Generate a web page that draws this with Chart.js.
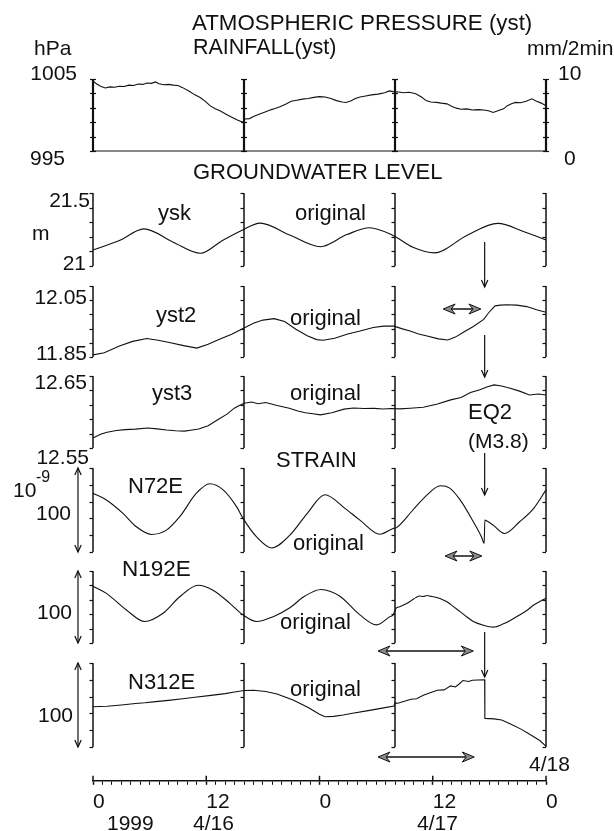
<!DOCTYPE html>
<html>
<head>
<meta charset="utf-8">
<script src="https://cdn.jsdelivr.net/npm/chart.js@4.4.1/dist/chart.umd.min.js"></script>
<style>
  html, body { margin:0; padding:0; background:#fff; }
  #fig { position:relative; width:614px; height:831px; overflow:hidden; background:#fff;
         font-family:"Liberation Sans", Arial, sans-serif; color:#111; }
  #fig canvas { position:absolute; left:0; }
  .lbl { position:absolute; font-size:21px; line-height:1; white-space:nowrap; transform:translateY(-50%); }
  .lbl.r { transform:translate(-100%, -50%); }
  .lbl.sup { font-size:16px; }
</style>
</head>
<body>
<div id="fig"></div>
<script>
// ── Data: hours from 1999-04-16 00:00 ──────────
const FRAME_HOURS = [0, 16, 32, 48];
const AXIS_HOURS  = Array.from({ length: 49 }, (_, i) => i);
const EQ_HOUR     = 41.5;

// atmospheric pressure, hPa
const PRESSURE = [[0,1004.7],[0.4,1004.3],[0.8,1004.0],[1.3,1003.75],[1.8,1003.9],[2.3,1003.85],[2.8,1004.0],
  [3.3,1003.95],[3.8,1004.15],[4.3,1004.1],[4.8,1004.3],[5.3,1004.25],[5.7,1004.45],[6.2,1004.4],[6.6,1004.6],
  [7.0,1004.35],[7.5,1004.2],[8.0,1004.25],[8.5,1004.15],[9.0,1004.1],[9.5,1003.8],[10.2,1003.3],[10.8,1002.8],
  [11.4,1002.4],[11.9,1001.9],[12.4,1001.3],[12.9,1000.9],[13.5,1000.55],[14.1,1000.1],[14.7,999.7],[15.3,999.3],
  [15.9,999.0],[16.1,999.45],[16.6,999.5],[17.0,999.8],[17.6,1000.1],[18.3,1000.45],[18.9,1000.75],[19.3,1000.9],
  [19.8,1001.15],[20.4,1001.5],[21.0,1001.9],[21.6,1002.05],[22.2,1002.2],[22.8,1002.3],[23.4,1002.45],[24.0,1002.55],
  [24.6,1002.5],[25.2,1002.3],[25.8,1002.0],[26.4,1001.8],[26.8,1001.74],[27.3,1001.95],[27.8,1002.3],[28.3,1002.5],
  [28.9,1002.65],[29.5,1002.8],[30.2,1002.9],[30.9,1003.1],[31.4,1003.35],[31.8,1003.25],[32.4,1003.2],[32.9,1003.1],
  [33.5,1003.15],[34.2,1002.95],[34.8,1002.5],[35.3,1002.0],[35.8,1001.8],[36.4,1001.75],[36.9,1001.65],[37.5,1001.55],
  [38.0,1001.2],[38.5,1000.95],[39.0,1000.8],[39.6,1000.85],[40.2,1000.7],[40.8,1000.75],[41.4,1000.7],[41.9,1000.6],
  [42.4,1000.35],[42.9,1000.6],[43.5,1000.85],[43.9,1001.3],[44.4,1001.6],[44.8,1001.75],[45.3,1001.7],[45.9,1001.9],
  [46.5,1002.25],[47.0,1001.9],[47.5,1001.65],[48,1001.3]];

// rainfall, mm/2min
const RAINFALL = [[0,0],[16,0],[32,0],[48,0]];

// groundwater level, m
const YSK = [[0,21.109],[2.8,21.174],[5.4,21.254],[8.5,21.163],[11.4,21.087],[13.6,21.17],[15.8,21.245],
  [17.7,21.294],[20.9,21.21],[24.1,21.132],[26.9,21.215],[29.3,21.262],[31.8,21.209],[33.9,21.128],[36.2,21.09],
  [39.6,21.209],[42.9,21.292],[45.6,21.237],[48,21.178]];

const YST2 = [[0,11.856],[1.2,11.862],[2.8,11.881],[4.2,11.894],[5.7,11.902],[6.9,11.897],[8.1,11.891],[9.6,11.882],
  [11.0,11.875],[12.2,11.886],[13.4,11.90],[14.7,11.914],[15.9,11.93],[17.0,11.945],[18.0,11.954],[19.2,11.958],
  [20.3,11.95],[21.5,11.928],[22.7,11.91],[23.7,11.899],[24.4,11.897],[25.6,11.903],[27.0,11.915],[28.3,11.923],
  [29.7,11.933],[30.8,11.937],[31.9,11.937],[32.7,11.93],[33.6,11.923],[34.5,11.915],[35.4,11.909],[36.6,11.901],
  [37.6,11.898],[38.4,11.906],[39.2,11.919],[40.3,11.936],[41.4,11.956],[41.9,11.974],[42.6,11.994],[43.2,11.996],
  [43.8,11.997],[44.9,11.996],[45.96,11.992],[47.0,11.983],[48,11.976]];

const YST3 = [[0,12.5638],[0.8,12.569],[1.5,12.572],[2.47,12.5744],[3.4,12.5755],[4.5,12.5762],[5.8,12.5777],
  [6.8,12.5766],[7.8,12.575],[8.73,12.574],[9.7,12.5735],[10.5,12.575],[11.2,12.5763],[12.2,12.581],[13.3,12.590],
  [14.2,12.597],[14.97,12.6053],[15.5,12.609],[16.0,12.6122],[16.8,12.6138],[17.5,12.6115],[18.3,12.6131],
  [19.5,12.609],[20.8,12.6053],[21.7,12.6015],[22.5,12.599],[23.3,12.5975],[24.1,12.596],[25.3,12.599],
  [26.6,12.604],[27.6,12.6055],[28.7,12.6048],[29.8,12.605],[30.7,12.6042],[31.6,12.6048],[32.5,12.6043],
  [33.6,12.6052],[35.0,12.6067],[36.5,12.611],[37.9,12.6168],[39.0,12.62],[40.0,12.627],[41.0,12.631],[41.8,12.635],
  [42.5,12.6376],[43.3,12.636],[44.2,12.633],[45.2,12.629],[46.25,12.6237],[47.2,12.625],[48,12.6237]];

// strain, 1e-9
const N72E = [[0,20.0],[1.42,12.0],[3.18,-4.0],[4.6,-20.0],[6.19,-29.1],[7.78,-24.0],[9.19,-8.0],[10.96,20.0],
  [12.38,31.2],[13.79,24.0],[15.21,4.0],[15.9,-10.0],[17.33,-32.0],[18.92,-45.2],[20.86,-30.0],[22.77,-3.0],
  [24.57,18.1],[26.69,2.0],[28.28,-12.0],[30.4,-28.8],[31.8,-21.9],[32.2,-20.7],[33.9,0],[35.4,18.0],[36.8,28.8],
  [37.8,26.0],[38.9,12.0],[40.3,-14.0],[41.2,-33.0],[41.45,-39.9],[41.52,-12.0],[41.8,-13.5],[42.4,-18.0],
  [43.6,-27.9],[45.2,-14.0],[46.7,2.0],[48,24.0]];

const N192E = [[0,28.9],[1.42,18.9],[3.54,-4.1],[5.48,-20.2],[7.42,-8.7],[9.19,14.2],[11.13,30.3],[12.72,23.4],
  [14.5,5.1],[15.9,-11.0],[17.33,-20.2],[19.1,-13.4],[20.86,-1.0],[22.45,15.2],[24.15,24.4],[26.16,15.0],
  [28.28,-11.0],[30.05,-24.8],[31.46,-13.4],[31.8,-11.0],[32.1,-1.8],[32.5,0.5],[32.9,2.8],[33.4,6.0],[33.8,9.5],
  [34.2,13.0],[34.6,15.2],[35.0,14.5],[35.4,16.0],[35.8,14.8],[36.05,14.2],[36.5,12.8],[37.0,10.5],[37.5,7.3],
  [38.2,0.5],[38.9,-6.5],[39.6,-13.5],[40.3,-20.2],[41.4,-25.5],[42.4,-28.0],[43.5,-23.4],[44.3,-18.0],[45.2,-11.0],
  [46.0,-4.5],[46.7,2.8],[47.4,8.0],[48,12.0]];

const N312E = [[0,-2.0],[1.5,-1.5],[3,0],[4.5,1.8],[5.5,2.6],[6.64,4.0],[8,5.5],[9.5,7.5],[10.8,9.3],[12.5,11.5],
  [14,13.5],[15,15.5],[16.0,17.2],[17,17.5],[18.3,16.0],[19.5,13.0],[21.2,6.0],[22.8,-3.0],[24.0,-11.0],[24.6,-14.0],
  [25.5,-13.5],[26.5,-12.0],[27.5,-9.9],[29,-7.0],[30.5,-4.0],[31.9,-1.1],[32.0,2.5],[32.3,2.1],[33.0,4.5],[33.7,6.9],
  [34.3,7.5],[35.0,11.5],[35.8,14.8],[36.5,17.5],[37.2,18.0],[37.9,22.8],[38.4,21.5],[38.8,25.0],[39.2,29.2],
  [39.8,28.0],[40.2,29.5],[40.8,29.8],[41.5,30.0],[41.52,-15.9],[42.5,-16.5],[43.3,-17.9],[44.3,-23.0],[45.4,-29.0],
  [46.0,-33.0],[46.7,-37.9],[47.3,-42.0],[48,-49.0]];

// ── Layout ─────────────────────────────────────
const PAD = 8;
const PLOT_LEFT = 93, PLOT_RIGHT = 68;

const PANELS = [
  { top: 79,  height: 72, min: 995,   max: 1005,  ticks: [995, 997, 999, 1001, 1003, 1005], style: 'cross',
    series: [{ data: PRESSURE }, { data: RAINFALL, axis: 'rain' }] },
  { top: 193, height: 73, min: 21,    max: 21.5,  ticks: [21, 21.1, 21.2, 21.3, 21.4, 21.5],
    series: [{ data: YSK, smooth: true }] },
  { top: 286, height: 71, min: 11.85, max: 12.05, ticks: [11.85, 11.89, 11.93, 11.97, 12.01, 12.05],
    series: [{ data: YST2 }] },
  { top: 376, height: 72, min: 12.55, max: 12.65, ticks: [12.55, 12.57, 12.59, 12.61, 12.63, 12.65],
    series: [{ data: YST3 }] },
  { top: 468, height: 84, min: -50, max: 50, ticks: [-50, -30, -10, 10, 30, 50], strain: true,
    series: [{ data: N72E, smooth: true }] },
  { top: 571, height: 72, min: -50, max: 50, ticks: [-50, -30, -10, 10, 30, 50], strain: true,
    series: [{ data: N192E, smooth: true }] },
  { top: 663, height: 84, min: -50, max: 50, ticks: [-50, -30, -10, 10, 30, 50], strain: true,
    series: [{ data: N312E }] },
];

// earthquake arrows (pixel rows) and duration spans (hours)
const EQ_ARROWS   = [[242, 287], [335, 377], [453, 495], [632, 677]];
const SPAN_ARROWS = [
  { from: 37.1, to: 41.1, y: 309 },
  { from: 37.3, to: 41.2, y: 556 },
  { from: 30.2, to: 40.3, y: 651 },
  { from: 30.2, to: 40.4, y: 757 },
];

// [text, x, y, align, size]
const LABELS = [
  ['ATMOSPHERIC PRESSURE (yst)', 192, 23, 'l', 22.3], ['RAINFALL(yst)', 193, 48, 'l', 21.5], ['hPa', 34, 47],
  ['mm/2min', 527, 47],
  ['1005', 77, 72, 'r'], ['10', 558, 72], ['995', 65, 157, 'r'], ['0', 564, 157],
  ['GROUNDWATER LEVEL', 193, 172, 'l', 22],
  ['21.5', 90, 199, 'r'], ['m', 32, 232], ['21', 86, 262, 'r'], ['ysk', 158, 213, 'l', 22], ['original', 295, 213, 'l', 22],
  ['12.05', 87, 296, 'r'], ['yst2', 156, 315, 'l', 22], ['original', 290, 318, 'l', 22], ['11.85', 87, 352, 'r'],
  ['12.65', 87, 381, 'r'], ['yst3', 152, 393, 'l', 22], ['original', 290, 393, 'l', 22], ['12.55', 89, 456, 'r'],
  ['EQ2', 468, 412, 'l', 22], ['(M3.8)', 468, 440], ['STRAIN', 276, 460, 'l', 22],
  ['10', 13, 489], ['N72E', 128, 486, 'l', 22], ['100', 36, 512], ['original', 293, 543, 'l', 22],
  ['N192E', 122, 569, 'l', 22.5], ['100', 37, 611], ['original', 280, 622, 'l', 22],
  ['N312E', 128, 682, 'l', 22], ['original', 290, 689, 'l', 22], ['100', 38, 714],
  ['4/18', 529, 763], ['1999', 107, 822], ['4/16', 193, 822], ['4/17', 417, 822],
];

const INK = '#111';
const FONT = 'Liberation Sans';
const fig = document.getElementById('fig');

function addCanvas(top, height) {
  const cv = document.createElement('canvas');
  cv.width = 614; cv.height = height;
  cv.style.top = top + 'px';
  fig.appendChild(cv);
  return cv;
}

// ── Panel frames: "]" brackets, crosses on the pressure panel ──
const framePlugin = {
  id: 'frames',
  afterDatasetsDraw(chart) {
    const { ctx, scales: { x, y } } = chart;
    const o = chart.options.plugins.frames;
    ctx.save();
    ctx.strokeStyle = INK;
    FRAME_HOURS.forEach(h => {
      const px = x.getPixelForValue(h);
      const y0 = y.getPixelForValue(o.max), y1 = y.getPixelForValue(o.min);
      ctx.lineWidth = o.style === 'cross' ? 2.2 : 1.5;
      ctx.beginPath(); ctx.moveTo(px, y0); ctx.lineTo(px, y1); ctx.stroke();
      ctx.lineWidth = 1.2;
      o.ticks.forEach(v => {
        const py = Math.round(y.getPixelForValue(v)) + 0.5;
        ctx.beginPath();
        if (o.style === 'cross') { ctx.moveTo(px - 3, py); ctx.lineTo(px + 3, py); }
        else { ctx.moveTo(px - 3.5, py); ctx.lineTo(px, py); }
        ctx.stroke();
      });
    });
    ctx.restore();
  }
};

PANELS.forEach(p => {
  const cv = addCanvas(p.top - PAD, p.height + 2 * PAD);
  new Chart(cv, {
    type: 'line',
    data: {
      datasets: p.series.map(s => ({
        data: s.data.map(([x, y]) => ({ x, y })),
        yAxisID: s.axis || 'y',
        borderColor: INK,
        borderWidth: 1.1,
        pointRadius: 0,
        tension: 0,
        cubicInterpolationMode: s.smooth ? 'monotone' : 'default',
        clip: false,
      }))
    },
    options: {
      responsive: false, animation: false, events: [],
      layout: { padding: { left: PLOT_LEFT, right: PLOT_RIGHT, top: PAD, bottom: PAD } },
      plugins: {
        legend: { display: false }, tooltip: { enabled: false },
        frames: { min: p.min, max: p.max, ticks: p.ticks, style: p.style || 'bracket' }
      },
      scales: {
        x: { type: 'linear', min: 0, max: 48, display: false },
        y: { min: p.min, max: p.max, display: false },
        rain: { axis: 'y', min: 0, max: 10, display: false },
      }
    },
    plugins: [framePlugin]
  });
});

// ── Time axis + arrows ─────────────────────────
function openHead(ctx, x, y, dx, dy) {
  // V head at (x, y) pointing along (dx, dy)
  const L = 7, W = 3.2;
  const bx = x - dx * L, by = y - dy * L;
  ctx.beginPath();
  ctx.moveTo(bx - dy * W, by + dx * W); ctx.lineTo(x, y); ctx.lineTo(bx + dy * W, by - dx * W);
  ctx.stroke();
}

function barbHead(ctx, x, y, dir) {
  ctx.beginPath();
  ctx.moveTo(x, y);
  ctx.lineTo(x - dir * 12, y - 5);
  ctx.lineTo(x - dir * 8, y);
  ctx.lineTo(x - dir * 12, y + 5);
  ctx.closePath();
  ctx.fillStyle = '#8c8c8c'; ctx.fill();
  ctx.lineWidth = 1; ctx.stroke();
}

const arrowPlugin = {
  id: 'arrows',
  afterDraw(chart) {
    const { ctx, scales: { x } } = chart;
    const axisY = chart.chartArea.bottom;
    ctx.save();
    ctx.strokeStyle = INK;

    // major ticks also rise above the axis line
    ctx.lineWidth = 1.5;
    [0, 12, 24, 36, 48].forEach(h => {
      const px = x.getPixelForValue(h);
      ctx.beginPath(); ctx.moveTo(px, axisY - 5); ctx.lineTo(px, axisY); ctx.stroke();
    });

    // earthquake time
    const ex = x.getPixelForValue(EQ_HOUR);
    ctx.lineWidth = 1.2;
    EQ_ARROWS.forEach(([y0, y1]) => {
      ctx.beginPath(); ctx.moveTo(ex, y0); ctx.lineTo(ex, y1); ctx.stroke();
      openHead(ctx, ex, y1, 0, 1);
    });

    // durations
    SPAN_ARROWS.forEach(s => {
      const x0 = x.getPixelForValue(s.from), x1 = x.getPixelForValue(s.to);
      ctx.lineWidth = 1.5;
      ctx.beginPath(); ctx.moveTo(x0 + 8, s.y); ctx.lineTo(x1 - 8, s.y); ctx.stroke();
      barbHead(ctx, x0, s.y, -1);
      barbHead(ctx, x1, s.y, 1);
    });

    // 100e-9 scale bars beside the strain panels
    const sx = 78;
    ctx.lineWidth = 1.2;
    PANELS.filter(p => p.strain).forEach(p => {
      const y0 = p.top, y1 = p.top + p.height;
      ctx.beginPath(); ctx.moveTo(sx, y0); ctx.lineTo(sx, y1); ctx.stroke();
      openHead(ctx, sx, y0, 0, -1);
      openHead(ctx, sx, y1, 0, 1);
    });
    ctx.restore();
  }
};

new Chart(addCanvas(0, 831), {
  type: 'line',
  data: { datasets: [] },
  options: {
    responsive: false, animation: false, events: [],
    layout: { padding: { left: PLOT_LEFT, right: PLOT_RIGHT, top: 10, bottom: 11 } },
    plugins: { legend: { display: false }, tooltip: { enabled: false } },
    scales: {
      x: {
        type: 'linear', min: 0, max: 48, position: 'bottom',
        afterBuildTicks: s => { s.ticks = AXIS_HOURS.map(v => ({ value: v })); },
        border: { display: true, color: INK, width: 1.5 },
        grid: {
          display: true, drawOnChartArea: false, drawTicks: true, tickLength: 4,
          tickColor: INK, tickWidth: c => (c.tick && c.tick.value % 12 === 0) ? 1.5 : 1
        },
        ticks: {
          autoSkip: false, maxRotation: 0, minRotation: 0, align: 'start', padding: 5, color: INK,
          font: { family: FONT, size: 21 },
          callback: v => (v % 12 === 0 ? String(v % 24) : '')
        }
      },
      y: { display: false, min: 0, max: 1 }
    }
  },
  plugins: [arrowPlugin]
});

// ── Text ───────────────────────────────────────
LABELS.forEach(([text, x, y, align, size]) => {
  const d = document.createElement('div');
  d.className = 'lbl' + (align === 'r' ? ' r' : '');
  d.style.left = x + 'px'; d.style.top = y + 'px';
  if (size) d.style.fontSize = size + 'px';
  d.textContent = text;
  fig.appendChild(d);
});
const sup = document.createElement('div');
sup.className = 'lbl sup';
sup.style.left = '36px'; sup.style.top = '477px';
sup.textContent = '-9';
fig.appendChild(sup);
</script>
</body>
</html>
